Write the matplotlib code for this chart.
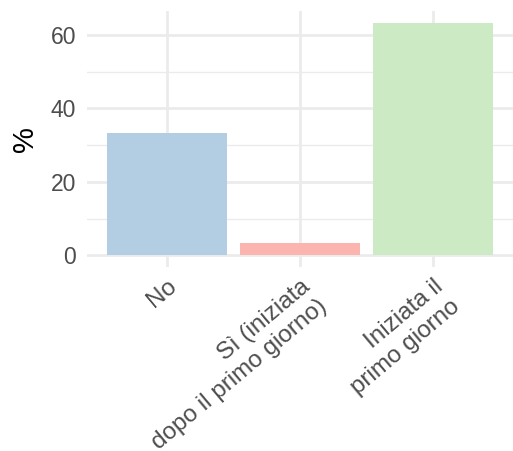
import matplotlib
matplotlib.use("Agg")
import matplotlib.pyplot as plt
from matplotlib.ticker import MultipleLocator

categories = ["No", "Sì (iniziata\ndopo il primo giorno)", "Iniziata il\nprimo giorno"]
values = [33.3, 3.3, 63.3]
colors = ["#B3CDE3", "#FBB4AE", "#CCEBC5"]
yticks = [0, 20, 40, 60]

plt.rcParams['font.family'] = ['Liberation Sans', 'DejaVu Sans']

fig = plt.figure(figsize=(5.13, 4.51), dpi=100)
ax = fig.add_axes([87/513, (451-267)/451, 1 - 87/513, (267-11)/451])

x = list(range(1, len(categories) + 1))
ax.bar(x, values, width=0.9, color=colors, zorder=3)

ymax = max(values)
ax.set_ylim(-0.05*ymax, ymax*1.05)
ax.set_xlim(0.4, 3.6)
ax.set_yticks(yticks)
ax.yaxis.set_minor_locator(MultipleLocator(10))
ax.set_xticks(x)
ax.set_xticklabels(categories, rotation=40, ha='right', va='top',
                   rotation_mode='anchor', multialignment='right',
                   linespacing=1.25)

ax.grid(which='major', color='#EBEBEB', linewidth=2.0, zorder=0)
ax.grid(which='minor', axis='y', color='#EBEBEB', linewidth=1.0, zorder=0)
for s in ax.spines.values():
    s.set_visible(False)
ax.tick_params(which='both', length=0)
ax.tick_params(axis='y', labelsize=16.5, labelcolor='#4D4D4D', pad=8)
ax.tick_params(axis='x', labelsize=17.5, labelcolor='#4D4D4D', pad=6)
ax.set_ylabel('%', fontsize=21, color='black', labelpad=8)

fig.savefig('out.png', dpi=100)
